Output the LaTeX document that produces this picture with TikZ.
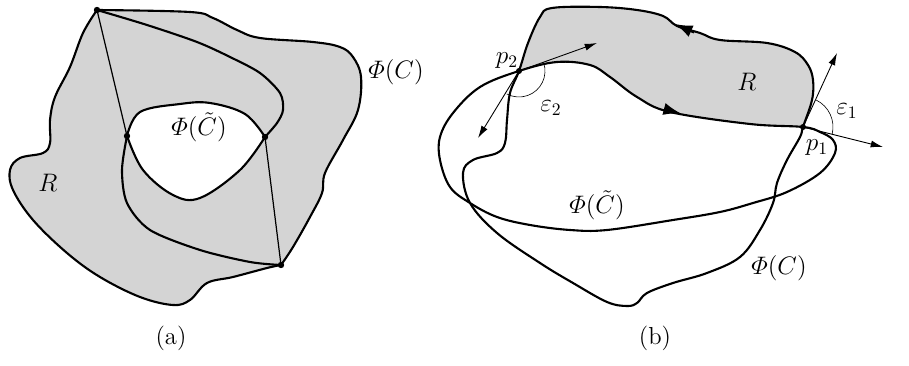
\documentclass[tikz,border=0pt]{standalone}
\usepackage{amsmath}
\definecolor{shadegray}{RGB}{212,212,212}
\usetikzlibrary{arrows.meta}

\begin{document}
\begin{tikzpicture}[x=0.02cm,y=0.02cm,
  curve/.style={line width=1.2pt, line join=round},
  chord/.style={line width=0.7pt},
  tang/.style={line width=0.5pt, -{Latex[length=7pt,width=4pt]}},
  angarc/.style={line width=0.35pt},
  lbl/.style={font=\fontsize{14}{16}\selectfont, inner sep=1pt}]
  \useasboundingbox (0,0) rectangle (909,365);

  % (a)
  \coordinate (A) at (97,355);
  \coordinate (B) at (127,229);
  \coordinate (C) at (265,228);
  \coordinate (D) at (281,100);
  \filldraw[curve, fill=shadegray, even odd rule]
    plot[smooth, tension=0.6] coordinates {(A) (190,353) (213,347) (237,335) (260,327) (313,323) (340,318) (353,308) (361,288) (358,255) (343,225) (325,192) (322,172) (310,148) (293,118) (D)}
    -- plot[smooth, tension=0.6] coordinates {(D) (267,97) (233,88) (207,82) (190,65) (173,60) (140,68) (100,88) (67,112) (33,145) (13,175) (10,195) (20,207) (43,212) (50,222) (50,245) (55,268) (70,298) (83,332) (A)}
    -- cycle
    plot[smooth, tension=0.6] coordinates {(B) (140,253) (180,261) (210,262) (245,251) (C)}
    -- plot[smooth, tension=0.6] coordinates {(C) (240,195) (200,167) (173,170) (143,195) (B)}
    -- cycle;
  \draw[curve] plot[smooth] coordinates {(A) (147,340) (197,323) (230,308) (260,292) (280,272) (283,255) (277,242) (C)};
  \draw[curve] plot[smooth] coordinates {(B) (122,195) (127,162) (150,135) (200,115) (250,103) (D)};
  \draw[chord] (A) -- (B);
  \draw[chord] (C) -- (D);
  \foreach \p in {A,B,C,D} \fill (\p) circle (3.2);
  \node[lbl] (phiCa) at (396,293) {$\varPhi(C)$};
  \node[lbl] (phiCta) at (199,238) {$\varPhi(\tilde{C})$};
  \node[lbl] (Ra) at (48,182) {$R$};
  \node[lbl] (capa) at (171,27) {(a)};

  % (b)
  \coordinate (p2) at (519,294);
  \coordinate (p1) at (803,238);
  \begin{scope}
    \clip plot[smooth cycle, tension=0.6] coordinates {(p2) (528,322) (540,348) (552,357) (600,358) (637,355) (663,349) (677,339) (700,332) (720,325) (767,322) (795,313) (808,300) (813,285) (812,265) (p1) (800,228) (787,205) (777,182) (773,162) (760,135) (740,108) (707,92) (673,82) (647,72) (637,62) (627,59) (607,63) (573,82) (540,102) (497,132) (470,162) (463,192) (473,205) (497,212) (505,222) (507,245) (510,272)};
    \clip (430,200) rectangle (840,365);
    \fill[shadegray, even odd rule] (400,150) rectangle (900,400)
      plot[smooth cycle, tension=0.6] coordinates {(p2) (557,303) (590,300) (610,288) (637,268) (670,253) (750,241) (p1) (820,233) (833,225) (835,212) (820,192) (787,173) (753,162) (720,153) (673,145) (607,135) (570,135) (530,140) (497,148) (470,162) (450,178) (440,205) (440,228) (453,252) (480,278)};
  \end{scope}
  \draw[curve] plot[smooth cycle, tension=0.6] coordinates {(p2) (528,322) (540,348) (552,357) (600,358) (637,355) (663,349) (677,339) (700,332) (720,325) (767,322) (795,313) (808,300) (813,285) (812,265) (p1) (800,228) (787,205) (777,182) (773,162) (760,135) (740,108) (707,92) (673,82) (647,72) (637,62) (627,59) (607,63) (573,82) (540,102) (497,132) (470,162) (463,192) (473,205) (497,212) (505,222) (507,245) (510,272)};
  \draw[curve] plot[smooth cycle, tension=0.6] coordinates {(p2) (557,303) (590,300) (610,288) (637,268) (670,253) (750,241) (p1) (820,233) (833,225) (835,212) (820,192) (787,173) (753,162) (720,153) (673,145) (607,135) (570,135) (530,140) (497,148) (470,162) (450,178) (440,205) (440,228) (453,252) (480,278)};
  \draw[curve, -{Latex[length=10pt,width=7pt]}] (694,332.5) -- (675,341);
  \draw[curve, -{Latex[length=10pt,width=7pt]}] (664,256) -- (681,251.5);
  \coordinate (t2a) at (597,322);
  \coordinate (t2b) at (478,227);
  \coordinate (t1a) at (837,312);
  \coordinate (t1b) at (883,218);
  \draw[tang] (p2) -- (t2a);
  \draw[tang] (p2) -- (t2b);
  \draw[tang] (p1) -- (t1a);
  \draw[tang] (p1) -- (t1b);
  \draw[angarc] (p2) ++(19:26) arc[start angle=19, end angle=-118, radius=26];
  \draw[angarc] (p1) ++(-14:30) arc[start angle=-14, end angle=64, radius=30];
  \foreach \p in {p1,p2} \fill (\p) circle (3);
  \node[lbl] (lp2) at (507,304) {$p_2$};
  \node[lbl] (le2) at (551,257) {$\varepsilon_2$};
  \node[lbl] (Rb) at (747,283) {$R$};
  \node[lbl] (le1) at (847,254) {$\varepsilon_1$};
  \node[lbl] (lp1) at (817,217) {$p_1$};
  \node[lbl] (phiCtb) at (597,160) {$\varPhi(\tilde{C})$};
  \node[lbl] (phiCb) at (779,97) {$\varPhi(C)$};
  \node[lbl] (capb) at (655,27) {(b)};
\end{tikzpicture}
\end{document}
